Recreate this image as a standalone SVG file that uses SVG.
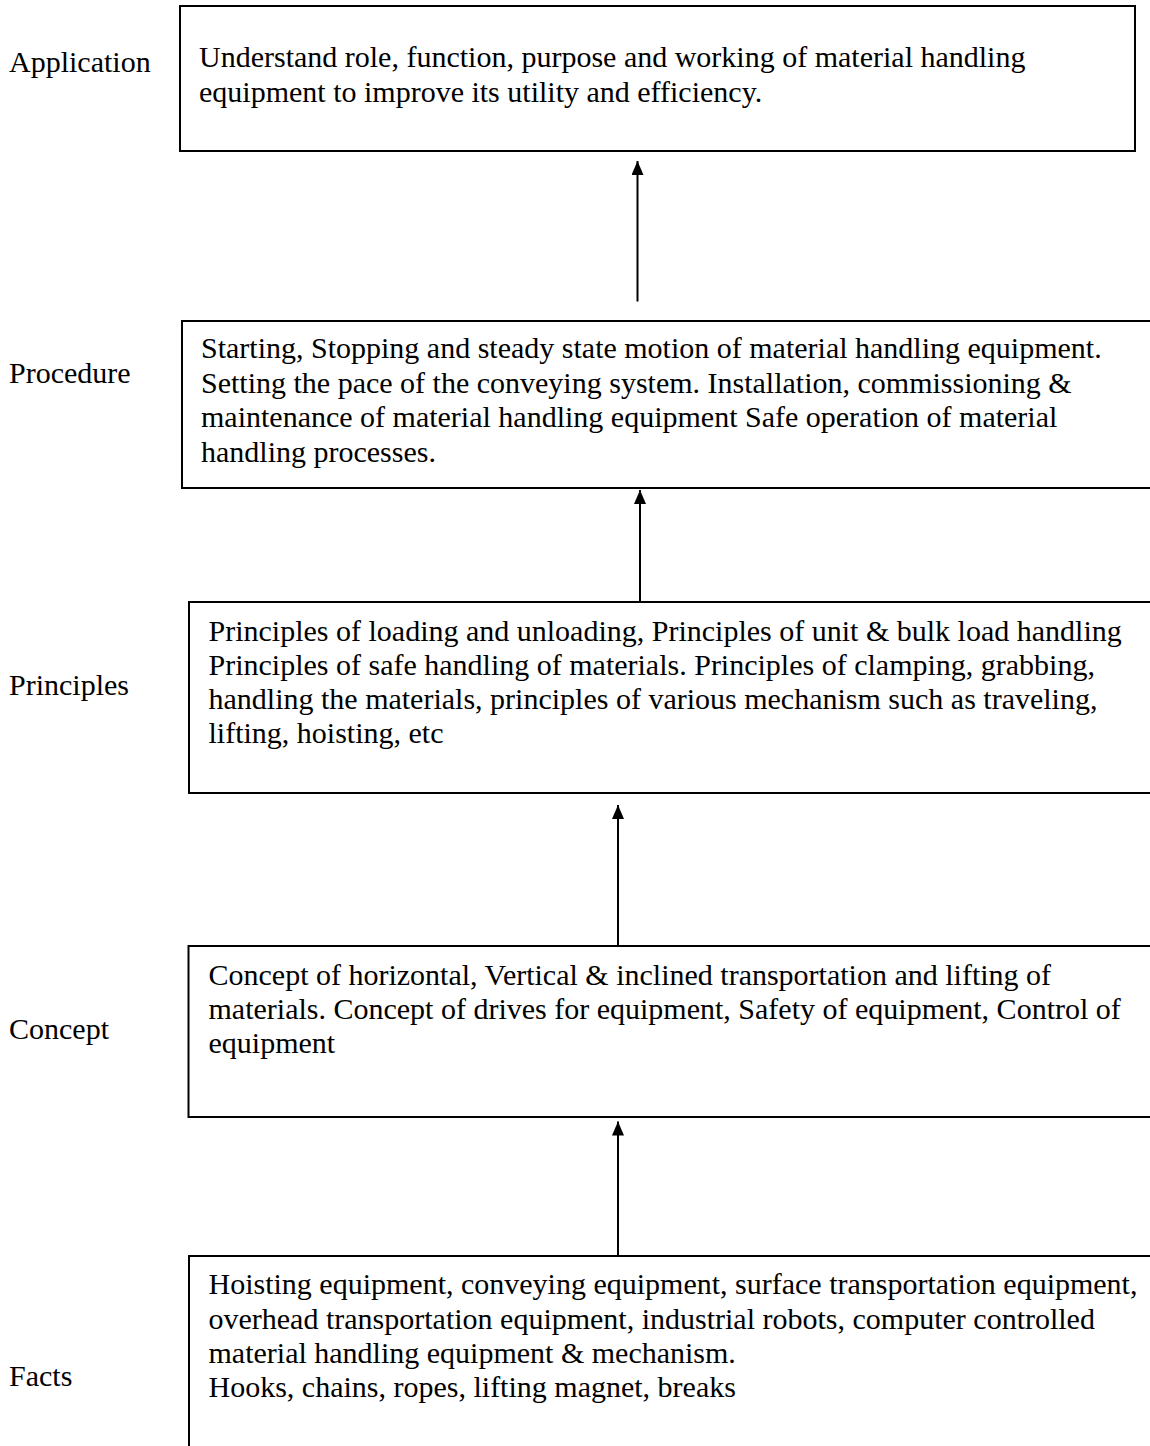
<svg xmlns="http://www.w3.org/2000/svg" width="1150" height="1446" viewBox="0 0 1150 1446">
<defs>
<style>
.t{font-family:"Liberation Serif","Times New Roman",serif;font-size:30px;fill:#000}
.box{fill:#fff;stroke:#000;stroke-width:2}
.conn{stroke:#000;stroke-width:2;fill:none}
</style>
<marker id="ah" markerUnits="userSpaceOnUse" markerWidth="14" markerHeight="14" refX="14" refY="6" orient="auto">
<path d="M0,0 L14,6 L0,12 Z" fill="#000"/>
</marker>
</defs>
<rect width="1150" height="1446" fill="#fff"/>
<g id="labels">
<text class="t" x="9" y="72">Application</text>
<text class="t" x="9" y="383">Procedure</text>
<text class="t" x="9" y="695">Principles</text>
<text class="t" x="9" y="1039">Concept</text>
<text class="t" x="9" y="1386">Facts</text>
</g>
<g id="node-application">
<rect class="box" x="180" y="6" width="955" height="145"/>
<text class="t" x="199" y="67">Understand role, function, purpose and working of material handling</text>
<text class="t" x="199" y="102">equipment to improve its utility and efficiency.</text>
</g>
<g id="node-procedure">
<rect class="box" x="182" y="321" width="990" height="167"/>
<text class="t" x="201" y="358">Starting, Stopping and steady state motion of material handling equipment.</text>
<text class="t" x="201" y="392.5">Setting the pace of the conveying system. Installation, commissioning &amp;</text>
<text class="t" x="201" y="427">maintenance of material handling equipment Safe operation of material</text>
<text class="t" x="201" y="461.5">handling processes.</text>
</g>
<g id="node-principles">
<rect class="box" x="189" y="602" width="990" height="191"/>
<text class="t" x="208.5" y="641">Principles of loading and unloading, Principles of unit &amp; bulk load handling</text>
<text class="t" x="208.5" y="675">Principles of safe handling of materials. Principles of clamping, grabbing,</text>
<text class="t" x="208.5" y="709">handling the materials, principles of various mechanism such as traveling,</text>
<text class="t" x="208.5" y="743">lifting, hoisting, etc</text>
</g>
<g id="node-concept">
<rect class="box" x="188.5" y="946" width="990" height="171"/>
<text class="t" x="208.5" y="984.5">Concept of horizontal, Vertical &amp; inclined transportation and lifting of</text>
<text class="t" x="208.5" y="1019">materials. Concept of drives for equipment, Safety of equipment, Control of</text>
<text class="t" x="208.5" y="1053">equipment</text>
</g>
<g id="node-facts">
<rect class="box" x="189" y="1256" width="990" height="220"/>
<text class="t" x="208.5" y="1294">Hoisting equipment, conveying equipment, surface transportation equipment,</text>
<text class="t" x="208.5" y="1328.5">overhead transportation equipment, industrial robots, computer controlled</text>
<text class="t" x="208.5" y="1362.5">material handling equipment &amp; mechanism.</text>
<text class="t" x="208.5" y="1396.5">Hooks, chains, ropes, lifting magnet, breaks</text>
</g>
<g id="connectors">
<line class="conn" x1="637.5" y1="301.5" x2="637.5" y2="161" marker-end="url(#ah)"/>
<line class="conn" x1="640" y1="602" x2="640" y2="490" marker-end="url(#ah)"/>
<line class="conn" x1="618" y1="945" x2="618" y2="805" marker-end="url(#ah)"/>
<line class="conn" x1="618" y1="1256" x2="618" y2="1121.5" marker-end="url(#ah)"/>
</g>
</svg>
